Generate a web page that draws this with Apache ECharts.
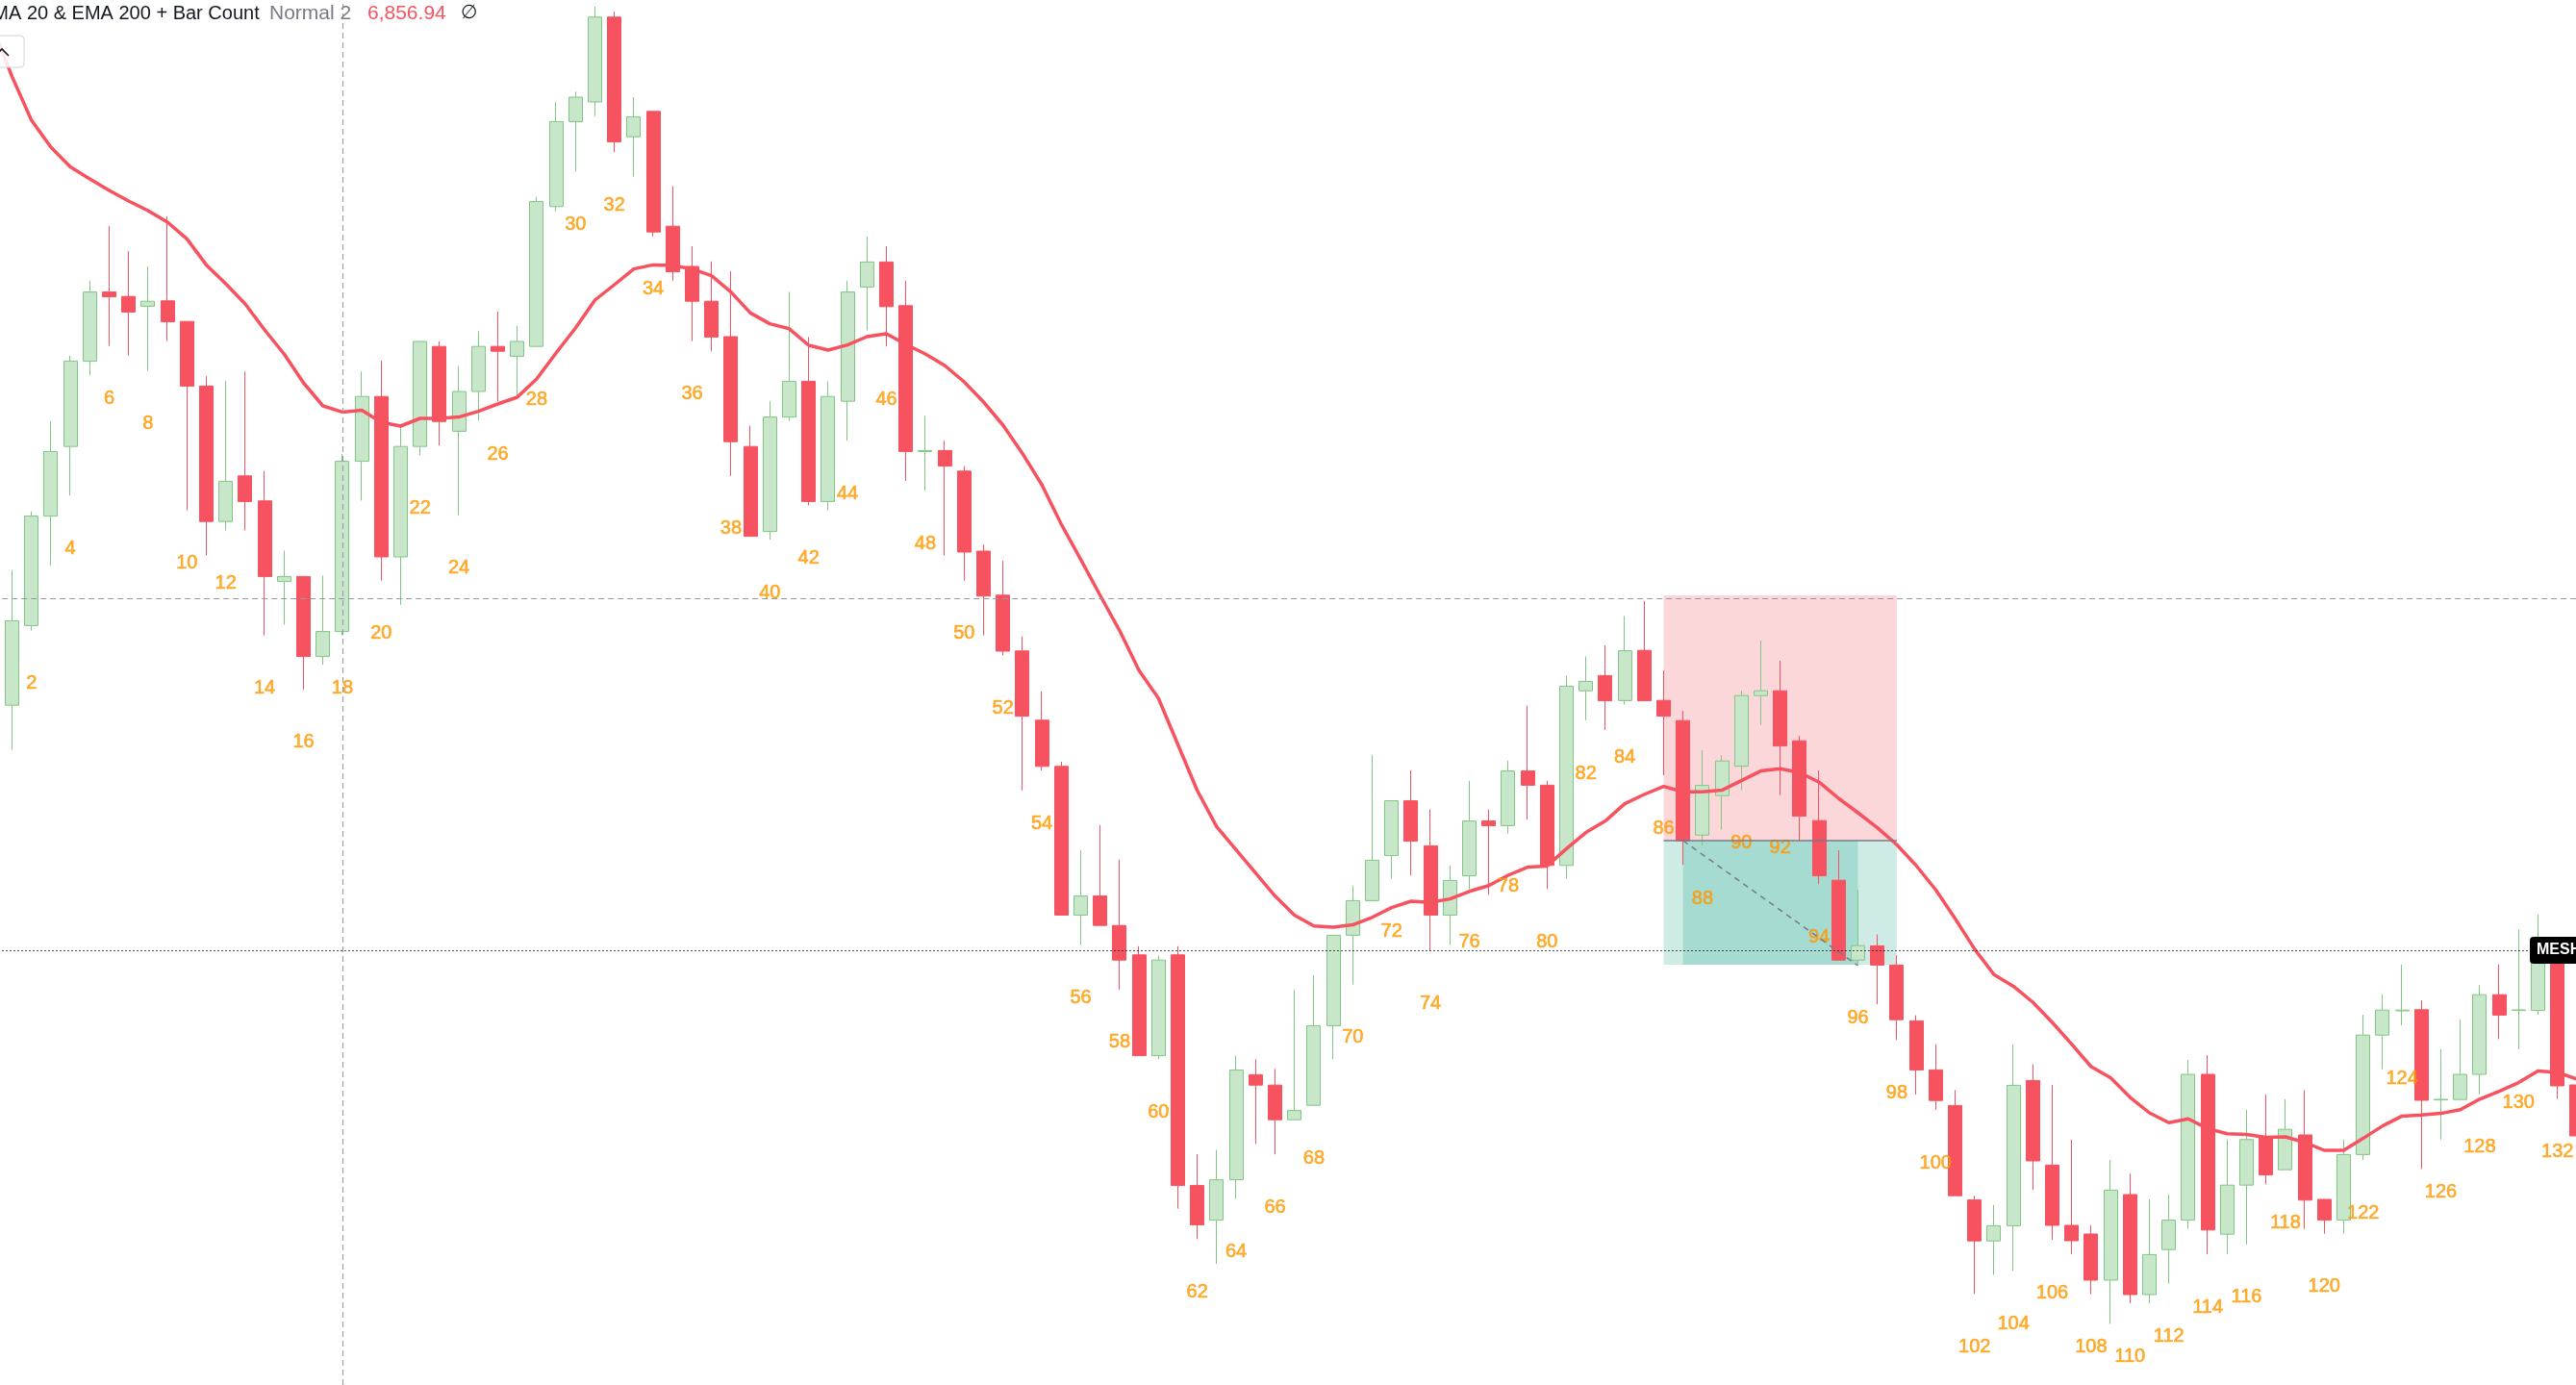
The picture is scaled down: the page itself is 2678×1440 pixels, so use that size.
<!DOCTYPE html>
<html><head><meta charset="utf-8">
<script src="https://cdn.jsdelivr.net/npm/echarts@6/dist/echarts.min.js"></script>
<style>html,body{margin:0;padding:0;background:#fff;overflow:hidden}#c{width:2678px;height:1440px}</style>
</head><body><div id="c"></div>
<script>
// ---- data (bar index 0..133, bar 0 only carries the EMA start) ----
const categories = Array.from({length: 134}, (_, i) => String(i));
const open = [
 null, 6843.34, 6847.48, 6853.17, 6856.79, 6861.22, 6864.82, 6864.59, 6864.08, 6864.36,
 6863.29, 6859.93, 6852.89, 6855.26, 6853.96, 6849.77, 6850.03, 6845.87, 6847.17, 6856.02,
 6859.39, 6851.05, 6856.79, 6861.99, 6857.58, 6859.65, 6861.99, 6861.48, 6861.99, 6869.26,
 6873.68, 6874.70, 6879.11, 6872.89, 6874.21, 6868.24, 6866.15, 6864.34, 6862.50, 6856.79,
 6852.37, 6858.32, 6860.18, 6853.93, 6859.14, 6865.08, 6866.38, 6864.11, 6856.53, 6856.58,
 6855.51, 6851.35, 6849.06, 6846.16, 6842.56, 6840.16, 6832.43, 6833.42, 6831.89, 6830.36,
 6825.12, 6830.36, 6818.37, 6816.57, 6818.67, 6824.13, 6823.59, 6821.79, 6822.54, 6826.68,
 6831.38, 6833.18, 6835.52, 6838.37, 6836.03, 6832.43, 6834.47, 6837.32, 6837.08, 6839.92,
 6839.18, 6835.01, 6844.09, 6844.88, 6843.58, 6846.19, 6843.59, 6842.54, 6836.59, 6838.64,
 6840.17, 6843.84, 6844.09, 6841.49, 6837.34, 6834.24, 6830.09, 6830.83, 6829.83, 6826.93,
 6824.38, 6822.53, 6817.62, 6815.49, 6816.28, 6823.83, 6819.43, 6816.30, 6815.85, 6813.45,
 6817.90, 6812.70, 6815.04, 6816.57, 6824.15, 6815.84, 6818.39, 6820.86, 6819.19, 6821.00,
 6817.65, 6816.57, 6819.98, 6826.19, 6827.45, 6827.51, 6822.82, 6822.84, 6824.15, 6828.29,
 6827.47, 6827.47, 6830.40, 6823.60
];
const high = [
 null, 6850.36, 6853.42, 6858.11, 6861.51, 6865.41, 6868.24, 6866.94, 6866.15, 6868.75,
 6863.29, 6860.44, 6860.21, 6860.69, 6855.51, 6851.38, 6850.03, 6850.08, 6856.40, 6860.69,
 6861.25, 6857.81, 6862.27, 6862.25, 6860.97, 6862.78, 6863.80, 6863.06, 6869.77, 6874.70,
 6875.23, 6879.65, 6879.39, 6874.95, 6874.21, 6870.31, 6867.20, 6866.41, 6865.90, 6857.86,
 6859.14, 6864.82, 6862.48, 6860.18, 6865.41, 6867.71, 6867.20, 6865.41, 6858.37, 6857.09,
 6855.77, 6851.69, 6850.84, 6846.91, 6844.06, 6840.40, 6835.79, 6837.11, 6835.31, 6830.81,
 6830.33, 6830.81, 6819.99, 6820.23, 6825.12, 6824.94, 6824.43, 6828.56, 6829.31, 6831.38,
 6833.96, 6840.76, 6838.37, 6839.95, 6837.92, 6835.01, 6839.41, 6837.92, 6840.46, 6843.31,
 6839.41, 6844.87, 6845.88, 6846.45, 6847.98, 6848.75, 6845.15, 6843.04, 6841.00, 6840.74,
 6844.09, 6846.70, 6845.65, 6841.75, 6839.95, 6835.80, 6833.75, 6831.42, 6830.34, 6827.22,
 6825.71, 6823.33, 6817.84, 6817.36, 6825.71, 6824.66, 6823.60, 6820.75, 6816.30, 6819.69,
 6818.98, 6817.65, 6817.90, 6824.90, 6825.15, 6820.76, 6822.31, 6823.10, 6822.86, 6823.33,
 6817.65, 6820.76, 6827.25, 6828.31, 6829.86, 6828.00, 6825.45, 6827.00, 6828.78, 6829.86,
 6831.66, 6832.45, 6830.40, 6823.75
];
const low = [
 null, 6841.02, 6847.22, 6850.61, 6854.24, 6860.49, 6862.02, 6861.51, 6860.72, 6862.27,
 6853.47, 6851.12, 6852.43, 6852.43, 6846.97, 6847.53, 6844.16, 6845.44, 6846.97, 6853.98,
 6849.82, 6848.55, 6856.33, 6856.84, 6853.22, 6858.14, 6859.14, 6859.39, 6861.99, 6869.01,
 6871.07, 6873.96, 6872.09, 6870.82, 6867.71, 6865.41, 6862.27, 6861.76, 6855.26, 6852.12,
 6851.94, 6858.11, 6853.73, 6853.47, 6857.09, 6862.83, 6861.99, 6855.00, 6854.49, 6851.12,
 6849.82, 6846.97, 6845.93, 6838.91, 6839.95, 6832.43, 6830.87, 6831.89, 6828.56, 6825.12,
 6824.94, 6817.17, 6815.58, 6814.30, 6817.68, 6820.53, 6819.99, 6821.79, 6822.54, 6824.94,
 6828.83, 6833.18, 6834.32, 6834.50, 6830.57, 6830.87, 6833.78, 6833.48, 6836.66, 6837.38,
 6833.78, 6834.32, 6842.55, 6842.05, 6843.37, 6843.57, 6839.70, 6835.04, 6836.05, 6836.87,
 6838.92, 6842.32, 6838.67, 6836.30, 6834.04, 6830.09, 6829.84, 6827.79, 6825.94, 6823.10,
 6822.30, 6817.84, 6812.73, 6813.72, 6813.95, 6818.15, 6815.55, 6814.80, 6812.72, 6811.17,
 6812.25, 6812.25, 6813.27, 6816.12, 6814.80, 6814.80, 6815.31, 6818.43, 6819.19, 6816.12,
 6815.86, 6815.86, 6819.70, 6824.43, 6826.70, 6819.23, 6820.76, 6822.84, 6823.12, 6825.98,
 6825.45, 6827.25, 6822.88, 6820.50
];
const close = [
 null, 6847.73, 6853.17, 6856.53, 6861.23, 6864.82, 6864.57, 6863.78, 6864.34, 6863.27,
 6859.93, 6852.89, 6854.98, 6853.93, 6850.03, 6850.03, 6845.87, 6847.17, 6856.02, 6859.39,
 6851.05, 6856.79, 6862.25, 6858.09, 6859.65, 6861.99, 6861.74, 6862.25, 6869.52, 6873.68,
 6874.95, 6879.11, 6872.63, 6873.93, 6867.94, 6865.87, 6864.34, 6862.48, 6857.04, 6852.12,
 6858.32, 6860.18, 6853.93, 6859.39, 6864.82, 6866.38, 6864.06, 6856.53, 6856.58, 6855.77,
 6851.30, 6849.01, 6846.15, 6842.77, 6840.16, 6832.43, 6833.42, 6831.89, 6830.09, 6825.12,
 6830.09, 6818.37, 6816.33, 6818.67, 6824.37, 6823.59, 6821.79, 6822.27, 6826.68, 6831.38,
 6833.18, 6835.28, 6838.37, 6836.27, 6832.43, 6834.23, 6837.32, 6837.08, 6839.92, 6839.18,
 6835.01, 6844.33, 6844.58, 6843.57, 6846.17, 6843.57, 6842.77, 6836.29, 6839.17, 6840.44,
 6843.84, 6844.09, 6841.22, 6837.57, 6834.47, 6830.09, 6830.84, 6829.83, 6826.99, 6824.38,
 6822.79, 6817.84, 6815.49, 6816.28, 6823.58, 6819.65, 6816.30, 6815.50, 6813.45, 6818.13,
 6812.70, 6814.78, 6816.57, 6824.15, 6816.06, 6818.39, 6820.76, 6818.92, 6821.29, 6817.61,
 6816.57, 6819.98, 6826.19, 6827.49, 6827.49, 6822.80, 6822.85, 6824.15, 6828.29, 6827.23,
 6827.50, 6830.50, 6823.55, 6820.95
];
const ema20 = [
 6878.6, 6876.02, 6873.75, 6872.35, 6871.33, 6870.7, 6870.1, 6869.55, 6869.05, 6868.45,
 6867.58, 6866.23, 6865.25, 6864.2, 6862.85, 6861.6, 6860.1, 6858.9, 6858.58, 6858.68,
 6858.05, 6857.85, 6858.25, 6858.25, 6858.32, 6858.62, 6859, 6859.35, 6860.3, 6861.65,
 6862.95, 6864.4, 6865.2, 6866.02, 6866.23, 6866.2, 6866.02, 6865.67, 6864.82, 6863.73,
 6863.17, 6862.91, 6862.05, 6861.8, 6862.07, 6862.5, 6862.65, 6862.1, 6861.6, 6861,
 6860.15, 6859.1, 6857.9, 6856.43, 6854.8, 6852.75, 6850.92, 6849.05, 6847.22, 6845.15,
 6843.7, 6841.3, 6838.9, 6837.02, 6835.82, 6834.62, 6833.42, 6832.43, 6831.86, 6831.8,
 6831.92, 6832.31, 6832.82, 6833.15, 6833.09, 6833.27, 6833.66, 6833.96, 6834.5, 6834.92,
 6834.98, 6835.88, 6836.72, 6837.32, 6838.22, 6838.7, 6839.12, 6838.84, 6838.84, 6838.92,
 6839.42, 6839.92, 6840.04, 6839.84, 6839.34, 6838.5, 6837.75, 6836.97, 6836.09, 6835,
 6833.75, 6832.25, 6830.67, 6829.34, 6828.73, 6827.9, 6826.85, 6825.72, 6824.55, 6823.97,
 6822.96, 6822.15, 6821.64, 6821.84, 6821.33, 6821.06, 6821.02, 6820.88, 6820.9, 6820.61,
 6820.2, 6820.2, 6820.82, 6821.47, 6821.98, 6822.04, 6822.12, 6822.31, 6822.86, 6823.27,
 6823.72, 6824.33, 6824.25, 6823.9
];
// legend texts
const legendTitle = 'EMA 20 & EMA 200 + Bar Count';
const legendMode = 'Normal 2';
const legendValue = '6,856.94';
const symbolTag = 'MESH';
// reference levels
const crosshairBar = 18;
const crosshairPrice = 6848.9;
const lastPrice = 6830.6;
// short position tool
const posStartBar = 86, posEndBar = 98, posInnerStart = 87, posInnerEnd = 96;
const stopPrice = 6849.05, entryPrice = 6836.3, targetPrice = 6829.85, exitPrice = 6829.8;
const priceMin = 6808, priceMax = 6880;

// ---- build ----
const candleData = categories.map((c, i) => open[i] == null ? ['-', '-', '-', '-'] : [open[i], close[i], low[i], high[i]]);
const countData = [];
for (let i = 2; i < categories.length; i += 2) { if (low[i] != null) countData.push([i, low[i]]); }

const chart = echarts.init(document.getElementById('c'), null, {renderer: 'canvas'});
const grey = '#9598A1';
chart.setOption({
  animation: false,
  backgroundColor: '#ffffff',
  grid: {left: -17.8, top: 0, width: 2706.8, height: 1440, containLabel: false, outerBoundsMode: 'none'},
  xAxis: {type: 'category', data: categories, boundaryGap: true, show: false},
  yAxis: {type: 'value', min: priceMin, max: priceMax, show: false, splitLine: {show: false}},
  series: [
    {
      type: 'line', data: [], z: 1, silent: true,
      markArea: {
        silent: true,
        data: [
          [{coord: [posStartBar, stopPrice], itemStyle: {color: 'rgba(242,54,69,0.2)'}}, {coord: [posEndBar, entryPrice]}],
          [{coord: [posStartBar, entryPrice], itemStyle: {color: 'rgba(8,153,129,0.2)'}}, {coord: [posEndBar, targetPrice]}],
          [{coord: [posInnerStart, entryPrice], itemStyle: {color: 'rgba(8,153,129,0.2)'}}, {coord: [posInnerEnd, targetPrice]}]
        ]
      },
      markLine: {
        silent: true, symbol: ['none', 'none'], label: {show: false},
        data: [
          [{coord: [posStartBar, entryPrice], lineStyle: {color: '#787B86', width: 1.5, type: 'solid'}}, {coord: [posEndBar, entryPrice]}],
          [{coord: [posInnerStart, entryPrice], lineStyle: {color: '#787B86', width: 1.5, type: [6, 5]}}, {coord: [posInnerEnd, exitPrice]}]
        ]
      }
    },
    {
      type: 'candlestick', name: 'Price', data: candleData, barWidth: 14.5, z: 2,
      itemStyle: {color: '#C8E6C9', color0: '#F7525F', borderColor: '#81C784', borderColor0: '#F7525F', borderWidth: 1}
    },
    {
      type: 'line', name: 'EMA 20', data: ema20, showSymbol: false, smooth: false, z: 3,
      lineStyle: {color: '#F7525F', width: 3.5}, itemStyle: {color: '#F7525F'}
    },
    {
      type: 'scatter', name: 'Bar Count', data: countData, symbolSize: 1, z: 4, silent: true,
      itemStyle: {color: 'rgba(0,0,0,0)'},
      label: {show: true, position: 'inside', offset: [0, 55], formatter: p => String(p.value[0]),
        color: '#FF9800', fontSize: 20, fontFamily: '"Liberation Sans", Arial, sans-serif',
        textBorderColor: '#FF9800', textBorderWidth: 0.6}
    },
    {
      type: 'line', data: [], z: 10, silent: true,
      markLine: {
        silent: true, symbol: ['none', 'none'], label: {show: false},
        data: [
          {xAxis: crosshairBar, lineStyle: {color: grey, width: 1, type: [6, 4]}},
          {yAxis: crosshairPrice, lineStyle: {color: grey, width: 1, type: [6, 4]}},
          {yAxis: lastPrice, lineStyle: {color: '#131722', width: 1, type: [1.5, 2.5]}}
        ]
      }
    }
  ],
  graphic: [
    {type: 'rect', id: 'btn', z: 100, shape: {x: -20, y: 37, width: 45, height: 33, r: 4},
     style: {fill: 'rgba(255,255,255,0.85)', stroke: '#D1D4DC', lineWidth: 1}},
    {type: 'polyline', id: 'chev', z: 101, shape: {points: [[-5, 58], [2, 51], [9, 58]]},
     style: {stroke: '#131722', lineWidth: 1.6, fill: null}},
    {type: 'text', id: 't1', z: 100, x: -21, y: 14,
     style: {text: legendTitle, font: '20px "Liberation Sans", Arial, sans-serif', fill: '#131722', verticalAlign: 'middle'}},
    {type: 'text', id: 't2', z: 100, x: 280, y: 14,
     style: {text: legendMode, font: '21px "Liberation Sans", Arial, sans-serif', fill: '#787B86', verticalAlign: 'middle'}},
    {type: 'text', id: 't3', z: 100, x: 382, y: 14,
     style: {text: legendValue, font: '21px "Liberation Sans", Arial, sans-serif', fill: '#F7525F', verticalAlign: 'middle'}},
    {type: 'text', id: 't4', z: 100, x: 479, y: 14,
     style: {text: '\u2205', font: '20px "DejaVu Sans", sans-serif', fill: '#131722', verticalAlign: 'middle'}}
  ]
});
const py = chart.convertToPixel({yAxisIndex: 0}, lastPrice);
chart.setOption({graphic: [
  {type: 'rect', id: 'tagbg', z: 120, shape: {x: 2630, y: py - 14, width: 70, height: 28, r: 4}, style: {fill: '#000000'}},
  {type: 'text', id: 'tagtx', z: 121, x: 2637, y: py,
   style: {text: symbolTag, font: 'bold 16px "Liberation Sans", Arial, sans-serif', fill: '#ffffff', verticalAlign: 'middle'}}
]});
</script>
</body></html>
